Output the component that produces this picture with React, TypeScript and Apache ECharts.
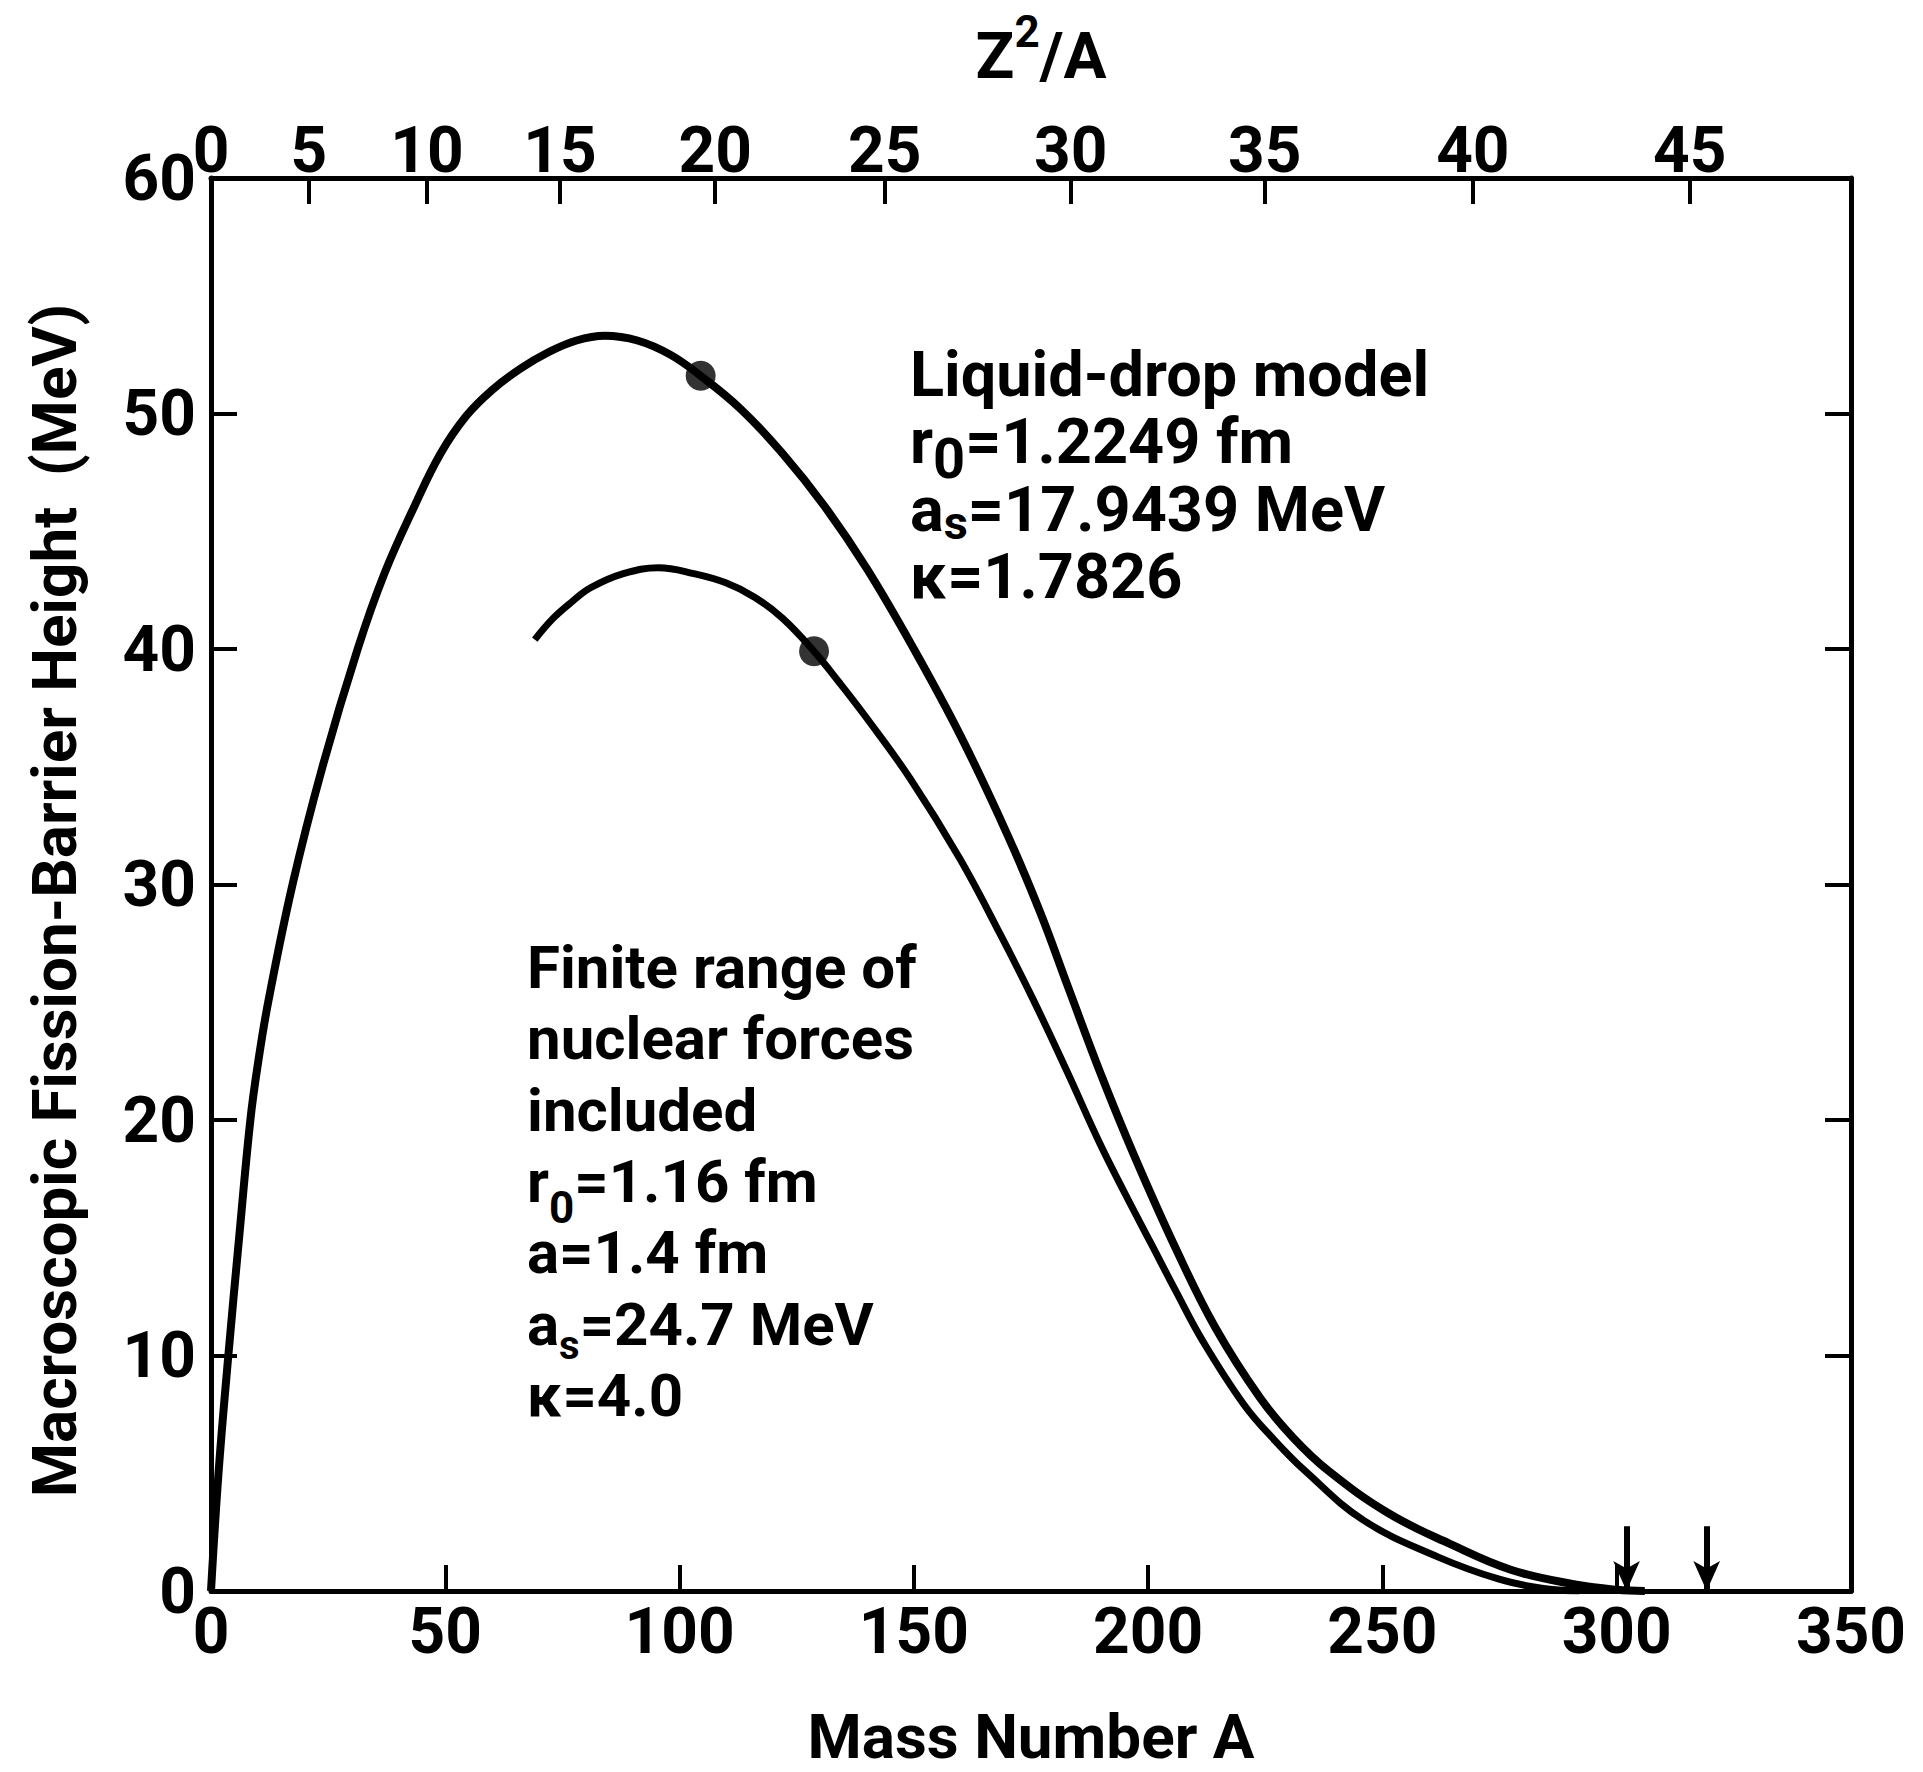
import React, { useEffect, useRef } from "react";
import * as echarts from "echarts";

// ---------------- data ----------------
const massTicks = [0, 50, 100, 150, 200, 250, 300, 350];
const barrierTicks = [0, 10, 20, 30, 40, 50, 60];
const z2aLabels = ["0", "5", "10", "15", "20", "25", "30", "35", "40", "45"];
const z2aAtMass = [0, 20.9, 46.1, 74.5, 107.6, 143.8, 183.5, 224.9, 269.3, 315.6];

const liquidDropA = [0, 1.6, 3.7, 6.0, 8.4, 10.1, 12.2, 17.4, 23.8, 31.3, 37, 43.5, 49, 54.5, 60, 66, 72, 78, 84, 91, 98, 104.5, 113, 122, 131, 140, 150, 160, 170, 177, 183, 190, 197, 206, 214.3, 223.9, 231, 238.5, 251.3, 264.4, 277.4, 290.5, 300, 306];
const liquidDropE = [0, 5, 10, 15, 20, 22.5, 25, 30, 35, 40, 43.2, 46.1, 48.3, 49.9, 51.0, 51.9, 52.6, 53.1, 53.3, 53.1, 52.5, 51.6, 50.2, 48.3, 46.05, 43.4, 40.0, 36.3, 32.1, 28.8, 25.6, 21.9, 18.5, 14.5, 11.2, 8.2, 6.5, 5.1, 3.3, 2.0, 0.9, 0.3, 0.05, 0];

const finiteRangeA = [69.1, 73, 77, 81, 88, 95.5, 103, 110, 116, 122, 128.7, 134, 139.8, 149.2, 159.8, 168.4, 175.5, 182.6, 189.7, 195, 200.5, 206, 211.7, 220.5, 227, 233.5, 246, 261.8, 274.9, 284, 292];
const finiteRangeE = [40.4, 41.3, 42.0, 42.6, 43.2, 43.45, 43.2, 42.8, 42.2, 41.3, 39.9, 38.6, 37.1, 34.5, 31.1, 27.9, 25.1, 22.1, 19.0, 16.9, 14.8, 12.7, 10.6, 7.9, 6.4, 5.1, 3.0, 1.45, 0.5, 0.12, 0];

const liquidDropDot = [104.5, 51.6];
const finiteRangeDot = [128.7, 39.9];

const arrowMass = [302.1, 319.2];
const arrowTop = 2.75;
const arrowTip = 0;

const liquidDropText = [
  "{m|Liquid-drop model}",
  "{m|r}{z|0}{m|=1.2249 fm}",
  "{m|a}{s|s}{m|=17.9439 MeV}",
  "{m|κ=1.7826}",
];
const finiteRangeText = [
  "{m|Finite range of}",
  "{m|nuclear forces}",
  "{m|included}",
  "{m|r}{z|0}{m|=1.16 fm}",
  "{m|a=1.4 fm}",
  "{m|a}{s|s}{m|=24.7 MeV}",
  "{m|κ=4.0}",
];

// ---------------- styling ----------------
const FONT = "Roboto, 'Liberation Sans', 'DejaVu Sans', sans-serif";
const BLACK = "#000";
const CENTRAL = 0.342; // baseline offset below the central line, in em

function fontStr(size: number) {
  return `bold ${size}px ${FONT}`;
}

// main token: top-aligned box of height lh; sub token: bottom-aligned so that its
// baseline falls `drop` px below the main baseline.
function textBlock(
  lines: string[],
  x: number,
  baselines: number[],
  mainSize: number,
  lh: number,
  zSize: number,
  zDrop: number,
  sSize: number,
  sDrop: number
) {
  const mainBase = lh / 2 + CENTRAL * mainSize;
  const subTok = (size: number, drop: number) => {
    const center = mainBase + drop - CENTRAL * size;
    const h = Math.max(1, 2 * (lh - center));
    return { font: fontStr(size), fill: BLACK, height: h, lineHeight: h, verticalAlign: "bottom" };
  };
  const rich = {
    m: { font: fontStr(mainSize), fill: BLACK, height: lh, lineHeight: lh, verticalAlign: "top" },
    z: subTok(zSize, zDrop),
    s: subTok(sSize, sDrop),
  };
  return lines.map((t, i) => ({
    type: "text",
    x,
    y: baselines[i] - mainBase,
    silent: true,
    z: 10,
    style: {
      text: t,
      rich,
      fill: BLACK,
      font: fontStr(mainSize),
      textAlign: "left",
      textVerticalAlign: "top",
      align: "left",
      verticalAlign: "top",
    },
  }));
}

function buildOption() {
  const axisLine = { show: true, onZero: false, lineStyle: { color: BLACK, width: 5 } };
  const tick = { show: true, inside: true, length: 26, lineStyle: { color: BLACK, width: 4 } };
  const labelStyle = { color: BLACK, fontSize: 64, fontFamily: FONT, fontWeight: "bold" as const };

  return {
    animation: false,
    backgroundColor: "#fff",
    textStyle: { fontFamily: FONT, fontWeight: "bold", color: BLACK },
    grid: { left: 211, right: 72, top: 178, bottom: 174, containLabel: false },
    xAxis: [
      {
        type: "value",
        position: "bottom",
        min: massTicks[0],
        max: massTicks[massTicks.length - 1],
        interval: massTicks[1] - massTicks[0],
        axisLine,
        axisTick: tick,
        splitLine: { show: false },
        axisLabel: { ...labelStyle, margin: 8, showMinLabel: true, showMaxLabel: true },
        name: "Mass Number A",
        nameLocation: "middle",
        nameGap: 114,
        nameTextStyle: { color: BLACK, fontSize: 62, fontFamily: FONT, fontWeight: "bold" },
      },
      {
        type: "value",
        position: "top",
        min: massTicks[0],
        max: massTicks[massTicks.length - 1],
        axisLine,
        axisTick: { ...tick, customValues: z2aAtMass },
        splitLine: { show: false },
        axisLabel: {
          ...labelStyle,
          margin: -4,
          customValues: z2aAtMass,
          formatter: (v: number) => {
            const i = z2aAtMass.findIndex((m) => Math.abs(m - v) < 1e-6);
            return i >= 0 ? z2aLabels[i] : "";
          },
        },
        name: "{z|Z}{sup|2}{z|/A}",
        nameLocation: "middle",
        nameGap: 77,
        nameTextStyle: {
          padding: [0, 0, 0, 20],
          rich: {
            z: { fontSize: 64, fontFamily: FONT, fontWeight: "bold", color: BLACK, height: 90, lineHeight: 90, verticalAlign: "top" },
            sup: { fontSize: 44, fontFamily: FONT, fontWeight: "bold", color: BLACK, height: 42, lineHeight: 42, verticalAlign: "top" },
          },
        },
      },
    ],
    yAxis: [
      {
        type: "value",
        position: "left",
        min: barrierTicks[0],
        max: barrierTicks[barrierTicks.length - 1],
        interval: barrierTicks[1] - barrierTicks[0],
        axisLine,
        axisTick: tick,
        splitLine: { show: false },
        axisLabel: { ...labelStyle, margin: 15, showMinLabel: true, showMaxLabel: true },
        name: "Macroscopic Fission-Barrier Height  (MeV)",
        nameLocation: "middle",
        nameGap: 126,
        nameRotate: 90,
        nameTextStyle: { color: BLACK, fontSize: 62, fontFamily: FONT, fontWeight: "bold", padding: [0, 32, 0, 0] },
      },
      {
        type: "value",
        position: "right",
        min: barrierTicks[0],
        max: barrierTicks[barrierTicks.length - 1],
        interval: barrierTicks[1] - barrierTicks[0],
        axisLine,
        axisTick: tick,
        splitLine: { show: false },
        axisLabel: { show: false },
      },
    ],
    series: [
      {
        type: "line",
        name: "Liquid-drop model",
        xAxisIndex: 0,
        yAxisIndex: 0,
        data: liquidDropA.map((a, i) => [a, liquidDropE[i]]),
        showSymbol: false,
        symbol: "none",
        smooth: 0.4,
        silent: true,
        lineStyle: { color: BLACK, width: 8 },
        z: 3,
        markLine: {
          silent: true,
          animation: false,
          symbol: ["none", "arrow"],
          label: { show: false },
          lineStyle: { color: BLACK, width: 6, type: "solid" },
          emphasis: { disabled: true },
          data: arrowMass.map((a) => [
            { coord: [a, arrowTop], symbol: "none" },
            { coord: [a, arrowTip], symbol: "arrow", symbolSize: [20, 30] },
          ]),
        },
      },
      {
        type: "line",
        name: "Finite range",
        xAxisIndex: 0,
        yAxisIndex: 0,
        data: finiteRangeA.map((a, i) => [a, finiteRangeE[i]]),
        showSymbol: false,
        symbol: "none",
        smooth: 0.4,
        silent: true,
        lineStyle: { color: BLACK, width: 7 },
        z: 3,
      },
      {
        type: "scatter",
        xAxisIndex: 0,
        yAxisIndex: 0,
        data: [liquidDropDot, finiteRangeDot],
        symbol: "circle",
        symbolSize: 30,
        silent: true,
        itemStyle: { color: BLACK },
        z: 4,
      },
    ],
    graphic: [
      ...textBlock(liquidDropText, 910, [396, 463, 531, 598], 63, 80, 56, 15, 47, 8),
      ...textBlock(finiteRangeText, 527, [988, 1059, 1131, 1202, 1273, 1345, 1416], 60, 76, 44, 21, 40, 14),
    ],
  };
}

export default function App() {
  const ref = useRef<HTMLDivElement>(null);
  useEffect(() => {
    if (!ref.current) return;
    const chart = echarts.init(ref.current, null, { renderer: "svg" });
    chart.setOption(buildOption() as any);
    return () => chart.dispose();
  }, []);
  return (
    <div
      ref={ref}
      style={{ position: "absolute", left: 0, top: 0, width: 1923, height: 1772, background: "#fff" }}
    />
  );
}
